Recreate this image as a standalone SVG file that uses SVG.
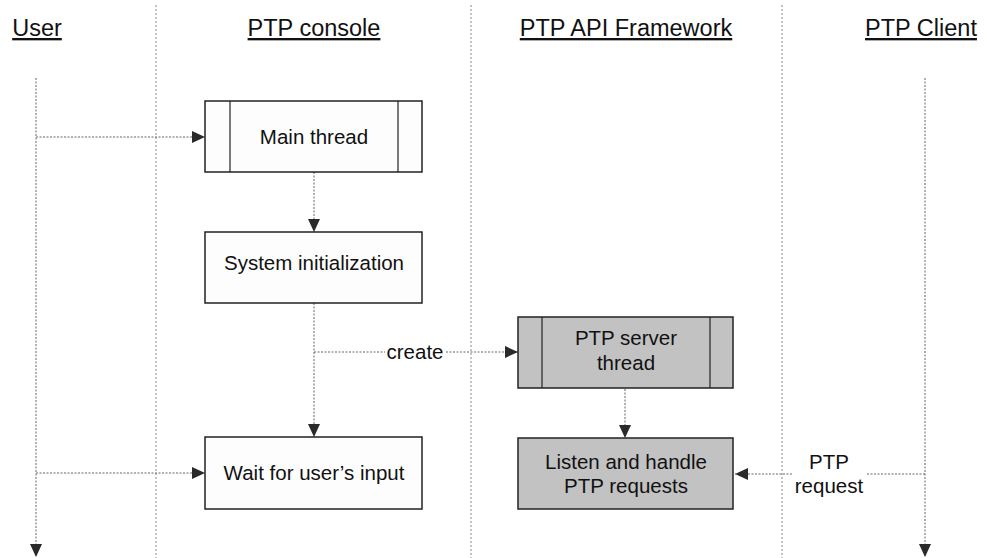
<svg xmlns="http://www.w3.org/2000/svg" width="987" height="558" viewBox="0 0 987 558">
  <style>
    .hdr { font-family: "Liberation Sans", Arial, sans-serif; font-size: 23.5px; fill: #111; text-anchor: middle; text-decoration: underline; }
    .lbl { font-family: "Liberation Sans", Arial, sans-serif; font-size: 20.5px; fill: #111; text-anchor: middle; }
    .sep { stroke: #888; stroke-width: 1; stroke-dasharray: 2 2; fill: none; }
    .box { fill: #fdfdfd; stroke: #222; stroke-width: 1.5; }
    .gbox { fill: #c2c2c2; stroke: #222; stroke-width: 1.5; }
    .inner { stroke: #222; stroke-width: 1.2; }
    .conn { stroke: #666; stroke-width: 1; stroke-dasharray: 2 1.5; fill: none; }
  </style>
  <defs>
    <marker id="ah" markerUnits="userSpaceOnUse" markerWidth="14" markerHeight="12" refX="13" refY="6" orient="auto">
      <path d="M0,0 L13,6 L0,12 z" fill="#2a2a2a"/>
    </marker>
  </defs>
  <rect width="987" height="558" fill="#ffffff"/>

  <g id="lanes">
    <line class="sep" x1="156" y1="5" x2="156" y2="558"/>
    <line class="sep" x1="471" y1="5" x2="471" y2="558"/>
    <line class="sep" x1="782" y1="5" x2="782" y2="558"/>
  </g>

  <g id="headers">
    <text id="hdr-user" class="hdr" x="37" y="36">User</text>
    <text id="hdr-console" class="hdr" x="314" y="36">PTP console</text>
    <text id="hdr-framework" class="hdr" x="626" y="36">PTP API Framework</text>
    <text id="hdr-client" class="hdr" x="921" y="36">PTP Client</text>
  </g>

  <g id="connectors">
    <line class="conn" x1="36" y1="78" x2="36" y2="557" marker-end="url(#ah)"/>
    <line class="conn" x1="925" y1="78" x2="925" y2="557" marker-end="url(#ah)"/>
    <line class="conn" x1="36" y1="137" x2="205" y2="137" marker-end="url(#ah)"/>
    <line class="conn" x1="36" y1="473" x2="205" y2="473" marker-end="url(#ah)"/>
    <line class="conn" x1="314" y1="172" x2="314" y2="232" marker-end="url(#ah)"/>
    <line class="conn" x1="314" y1="303" x2="314" y2="437" marker-end="url(#ah)"/>
    <line class="conn" x1="314" y1="352" x2="385" y2="352"/>
    <line class="conn" x1="446" y1="352" x2="518" y2="352" marker-end="url(#ah)"/>
    <text class="lbl" x="415" y="359">create</text>
    <line class="conn" x1="625" y1="389" x2="625" y2="438" marker-end="url(#ah)"/>
    <line class="conn" x1="925" y1="474" x2="866" y2="474"/>
    <line class="conn" x1="792" y1="474" x2="735" y2="474" marker-end="url(#ah)"/>
    <text class="lbl" x="829" y="469">PTP</text>
    <text class="lbl" x="829" y="493">request</text>
  </g>

  <g id="main-thread">
    <rect class="box" x="205" y="101" width="217" height="71"/>
    <line class="inner" x1="230" y1="101" x2="230" y2="172"/>
    <line class="inner" x1="398" y1="101" x2="398" y2="172"/>
    <text class="lbl" x="314" y="144">Main thread</text>
  </g>

  <g id="system-init">
    <rect class="box" x="205" y="232" width="217" height="71"/>
    <text class="lbl" x="314" y="270">System initialization</text>
  </g>

  <g id="wait-input">
    <rect class="box" x="205" y="437" width="217" height="72"/>
    <text class="lbl" x="314" y="480">Wait for user’s input</text>
  </g>

  <g id="server-thread">
    <rect class="gbox" x="518" y="317" width="215" height="71"/>
    <line class="inner" x1="542" y1="317" x2="542" y2="388"/>
    <line class="inner" x1="710" y1="317" x2="710" y2="388"/>
    <text class="lbl" x="626" y="345">PTP server</text>
    <text class="lbl" x="626" y="370">thread</text>
  </g>

  <g id="listen-handle">
    <rect class="gbox" x="518" y="438" width="215" height="71"/>
    <text class="lbl" x="626" y="469">Listen and handle</text>
    <text class="lbl" x="626" y="493">PTP requests</text>
  </g>
</svg>
